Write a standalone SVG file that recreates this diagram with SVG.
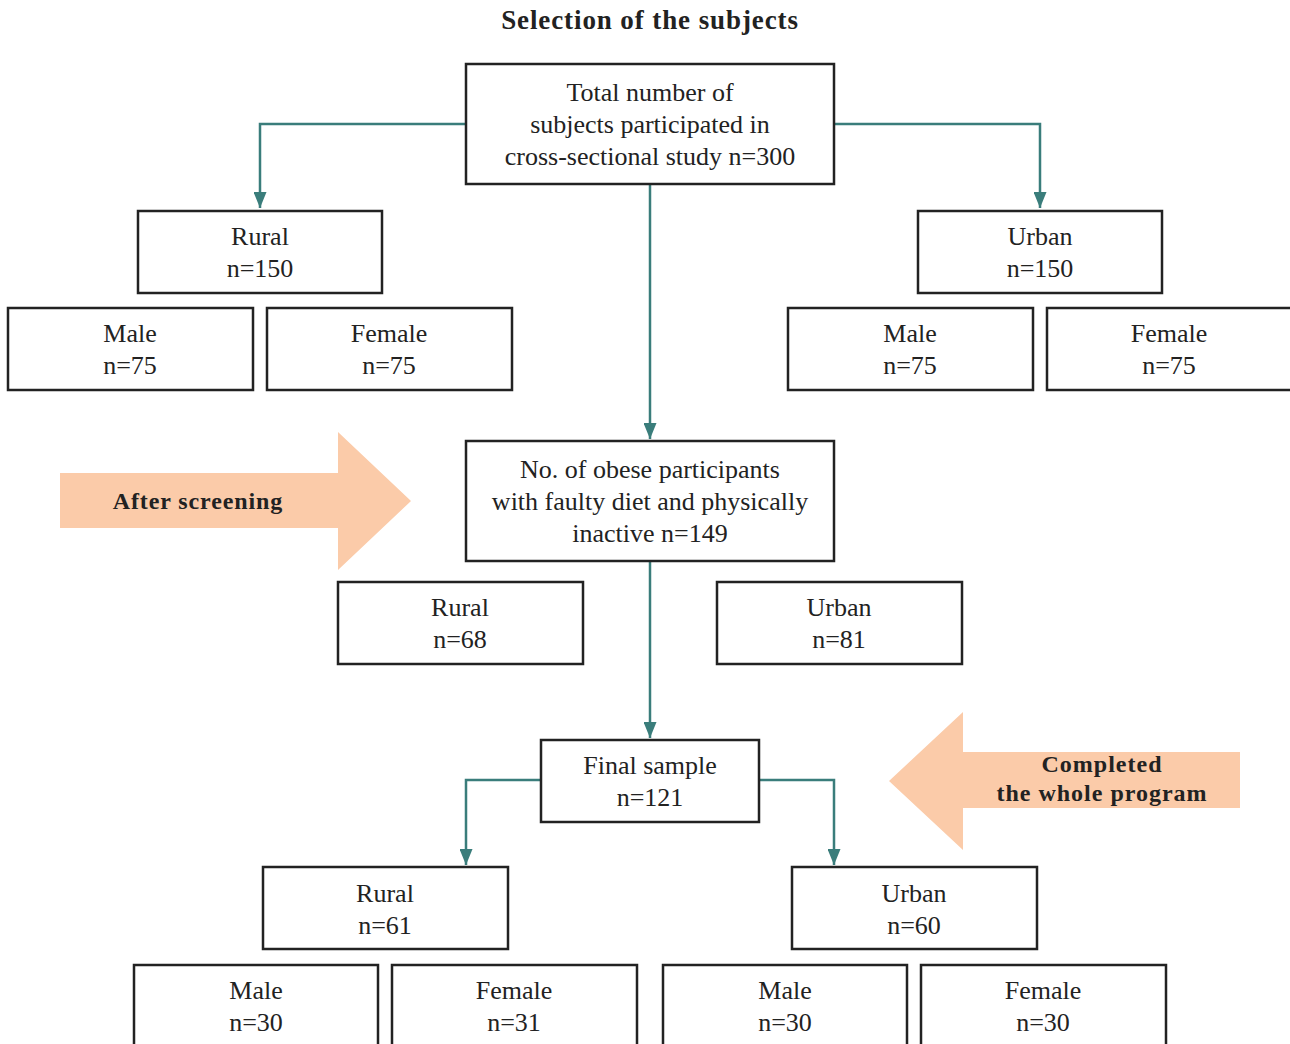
<svg xmlns="http://www.w3.org/2000/svg" width="1290" height="1044" viewBox="0 0 1290 1044">
<defs>
<marker id="ah" markerWidth="16" markerHeight="13" refX="16" refY="6.5" orient="auto" markerUnits="userSpaceOnUse" viewBox="0 0 16 13">
<path d="M0,0 L16,6.5 L0,13 Z" fill="#3a7d7b"/>
</marker>
<style>
.box{fill:#fff;stroke:#222;stroke-width:2.5}
.t{font-family:"Liberation Serif",serif;font-size:26px;fill:#222;text-anchor:middle}
.b{font-family:"Liberation Serif",serif;font-weight:bold;fill:#222;text-anchor:middle}
.c{fill:none;stroke:#3a7d7b;stroke-width:2.5}
.big{fill:#fbcba9}
</style>
</defs>
<rect width="1290" height="1044" fill="#fff"/>
<text class="b" x="650" y="29" font-size="27" letter-spacing="0.9">Selection of the subjects</text>

<g id="arrows-bg">
<path class="big" d="M60,473 H338 V432 L411,501 L338,570 V528 H60 Z"/>
<text class="b" x="198" y="509" font-size="24" letter-spacing="0.9">After screening</text>
<path class="big" d="M1240,752 H963 V712 L889,781 L963,850 V808 H1240 Z"/>
<text class="b" x="1102" y="772" font-size="24" letter-spacing="1">Completed</text>
<text class="b" x="1102" y="801" font-size="24" letter-spacing="1">the whole program</text>
</g>

<g id="connectors">
<path class="c" d="M466,124 H260 V208" marker-end="url(#ah)"/>
<path class="c" d="M834,124 H1040 V208" marker-end="url(#ah)"/>
<path class="c" d="M650,184 V439" marker-end="url(#ah)"/>
<path class="c" d="M650,561 V738" marker-end="url(#ah)"/>
<path class="c" d="M541,780 H466 V865" marker-end="url(#ah)"/>
<path class="c" d="M759,780 H834 V865" marker-end="url(#ah)"/>
</g>

<g id="n-total"><rect class="box" x="466" y="64" width="368" height="120"/>
<text class="t" x="650" y="101">Total number of</text><text class="t" x="650" y="133">subjects participated in</text><text class="t" x="650" y="165">cross-sectional study n=300</text></g>

<g id="n-rural1"><rect class="box" x="138" y="211" width="244" height="82"/><text class="t" x="260" y="245">Rural</text><text class="t" x="260" y="277">n=150</text></g>
<g id="n-urban1"><rect class="box" x="918" y="211" width="244" height="82"/><text class="t" x="1040" y="245">Urban</text><text class="t" x="1040" y="277">n=150</text></g>
<g id="n-male1"><rect class="box" x="8" y="308" width="245" height="82"/><text class="t" x="130" y="342">Male</text><text class="t" x="130" y="374">n=75</text></g>
<g id="n-female1"><rect class="box" x="267" y="308" width="245" height="82"/><text class="t" x="389" y="342">Female</text><text class="t" x="389" y="374">n=75</text></g>
<g id="n-male2"><rect class="box" x="788" y="308" width="245" height="82"/><text class="t" x="910" y="342">Male</text><text class="t" x="910" y="374">n=75</text></g>
<g id="n-female2"><rect class="box" x="1047" y="308" width="245" height="82"/><text class="t" x="1169" y="342">Female</text><text class="t" x="1169" y="374">n=75</text></g>

<g id="n-obese"><rect class="box" x="466" y="441" width="368" height="120"/>
<text class="t" x="650" y="478">No. of obese participants</text><text class="t" x="650" y="510">with faulty diet and physically</text><text class="t" x="650" y="542">inactive n=149</text></g>
<g id="n-rural2"><rect class="box" x="338" y="582" width="245" height="82"/><text class="t" x="460" y="616">Rural</text><text class="t" x="460" y="648">n=68</text></g>
<g id="n-urban2"><rect class="box" x="717" y="582" width="245" height="82"/><text class="t" x="839" y="616">Urban</text><text class="t" x="839" y="648">n=81</text></g>

<g id="n-final"><rect class="box" x="541" y="740" width="218" height="82"/><text class="t" x="650" y="774">Final sample</text><text class="t" x="650" y="806">n=121</text></g>
<g id="n-rural3"><rect class="box" x="263" y="867" width="245" height="82"/><text class="t" x="385" y="902">Rural</text><text class="t" x="385" y="934">n=61</text></g>
<g id="n-urban3"><rect class="box" x="792" y="867" width="245" height="82"/><text class="t" x="914" y="902">Urban</text><text class="t" x="914" y="934">n=60</text></g>
<g id="n-male3"><rect class="box" x="134" y="965" width="244" height="90"/><text class="t" x="256" y="999">Male</text><text class="t" x="256" y="1031">n=30</text></g>
<g id="n-female3"><rect class="box" x="392" y="965" width="245" height="90"/><text class="t" x="514" y="999">Female</text><text class="t" x="514" y="1031">n=31</text></g>
<g id="n-male4"><rect class="box" x="663" y="965" width="244" height="90"/><text class="t" x="785" y="999">Male</text><text class="t" x="785" y="1031">n=30</text></g>
<g id="n-female4"><rect class="box" x="921" y="965" width="245" height="90"/><text class="t" x="1043" y="999">Female</text><text class="t" x="1043" y="1031">n=30</text></g>
</svg>
